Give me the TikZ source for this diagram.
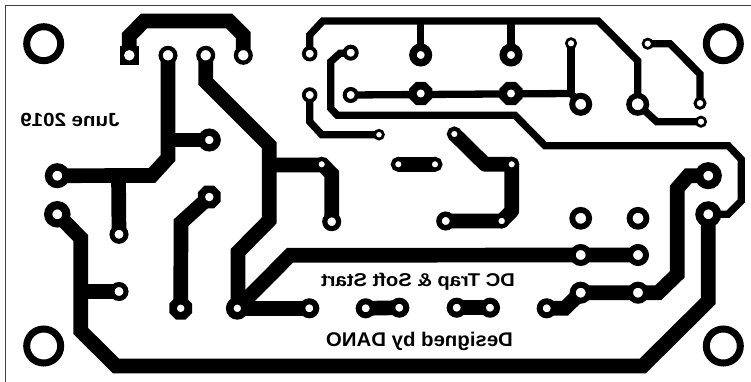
\documentclass[tikz,border=0pt]{standalone}
\usepackage{fontspec}
\setmainfont{Liberation Sans}
\usetikzlibrary{backgrounds,shapes.geometric}
\tikzset{
  pad/.style args={#1/#2}{circle, draw=black, fill=white, inner sep=0pt,
    line width={(#1-#2)/2}, minimum size={(#1+#2)/2}},
  hole/.style={circle, fill=white, inner sep=0pt, minimum size=#1},
  octpad/.style={regular polygon, regular polygon sides=8, fill=black, inner sep=0pt, minimum size=#1},
  sqpad/.style={rectangle, fill=black, inner sep=0pt, minimum size=#1},
  trk/.style={draw=black, line width=14.7pt},
  thin trk/.style={draw=black, line width=7.3pt},
  silk/.style={xscale=-#1, anchor=base, inner sep=0pt, text=black}
}
\begin{document}
\begin{tikzpicture}[x=1pt, y=-1pt]
    \useasboundingbox (0,0) rectangle (751,382);
    \draw[black!75, line width=1pt] (5,382) -- (5,6) -- (751,6);

    % mounting holes
    \node (mntA) [pad=41/27] at (43.7,43.7) {};
    \node (mntB) [pad=41/27] at (723.3,43.7) {};
    \node (mntC) [pad=41/27] at (43.7,346) {};
    \node (mntD) [pad=41/27] at (723.3,346) {};

    % left half pads
    \node (conA) [sqpad=19] at (129.3,55.3) {};
    \node (conAh) [hole=10.5] at (conA) {};
    \node (conB) [pad=19/10.5] at (168,55.3) {};
    \node (conC) [pad=19/10.5] at (205.7,55.3) {};
    \node (conD) [pad=19/10.5] at (243.3,55.3) {};
    \node (tabA) [pad=23/8.5] at (209.3,140) {};
    \node (inA) [pad=25/10] at (57.3,175.7) {};
    \node (inB) [pad=26.5/10] at (57.3,214.3) {};
    \node (resA) [pad=19/9] at (119,234.3) {};
    \node (resB) [pad=19/9] at (119,291.5) {};
    \node (capA) [octpad=24.6] at (209.3,197) {};
    \node (capAh) [hole=8.5] at (capA) {};
    \node (capB) [octpad=24.6] at (180.7,308.3) {};
    \node (capBh) [hole=7.5] at (capB) {};
    \node (gnd) [pad=22.7/7.5] at (237.3,308.3) {};
    \node (resC) [pad=20/8] at (309.3,308.3) {};
    \node (resD) [pad=20/8] at (365.7,308.3) {};
    \node (resE) [pad=20/8] at (399.3,307.7) {};
    \node (drvA) [pad=15/6.7] at (321.7,164.3) {};
    \node (drvB) [pad=19/8.7] at (331.7,221.7) {};

    % upper right pads
    \node (smA) [pad=15.5/8] at (309.7,53.7) {};
    \node (smB) [pad=16/8] at (350.7,52.7) {};
    \node (smC) [pad=15.5/8] at (309.7,95) {};
    \node (smD) [pad=16/8] at (350.7,95) {};
    \node (smE) [pad=11.5/6] at (379,134.7) {};
    \node (relA) [pad=23/8] at (420.7,55) {};
    \node (relB) [pad=23/8] at (511,55) {};
    \node (octA) [octpad=25] at (420.7,93.5) {};
    \node (octAh) [hole=8] at (octA) {};
    \node (octB) [octpad=25] at (511,93.5) {};
    \node (octBh) [hole=8] at (octB) {};
    \node (smF) [pad=12/6.7] at (571,43.3) {};
    \node (relC) [pad=23/11] at (580.7,104.3) {};
    \node (relD) [pad=23/12] at (637.7,104.3) {};
    \node (smG) [pad=12/6.7] at (647.7,43.7) {};
    \node (smH) [pad=13/7] at (700,103.3) {};
    \node (smI) [pad=12/6.7] at (701,121.7) {};

    % middle and lower right pads
    \node (dioA) [pad=15/6.7] at (454.3,134) {};
    \node (dioB) [pad=15/6.7] at (511.7,164.3) {};
    \node (barA) [pad=15/6.7] at (398.3,164.3) {};
    \node (barB) [pad=15/6.7] at (435,164.3) {};
    \node (dioC) [pad=19/8] at (445.7,221) {};
    \node (dioD) [pad=15/7] at (501.7,221) {};
    \node (barC) [pad=20/8] at (456.7,307.7) {};
    \node (barD) [pad=20/8] at (490,307.7) {};
    \node (barE) [pad=20/8] at (546.7,308.3) {};
    \node (outA) [pad=22.7/11] at (580.7,218.3) {};
    \node (outB) [pad=22.7/11] at (638,218.3) {};
    \node (outC) [pad=22/10] at (580.7,255) {};
    \node (outD) [pad=22/10] at (638,255) {};
    \node (outE) [pad=22/10] at (580.7,292.7) {};
    \node (outF) [pad=22/10] at (638,292.7) {};
    \node (spkA) [pad=27/10] at (708.3,175.7) {};
    \node (spkB) [pad=26/10] at (708.3,214.3) {};

    \node (dated) [silk=1.08, font=\bfseries\fontsize{19}{19}\selectfont] at (70,126.7) {June 2019};
    \node (title) [silk=1.09, font=\bfseries\fontsize{18.5}{19}\selectfont] at (418,286) {DC Trap \& Soft Start};
    \node (maker) [silk=1.03, font=\bfseries\fontsize{19.8}{20}\selectfont] at (419.5,346) {Designed by DANO};

    \begin{scope}[on background layer]
        \draw[trk] (conA.center) -- (129.3,36) -- (144,21) -- (229.3,21) -- (243.3,35) -- (conD.center);
        \draw[trk] (conB.center) -- (168,158) -- (152,175.5) -- (inA.center);
        \draw[trk] (168,140) -- (tabA.center);
        \draw[trk] (118.5,175.5) -- (resA.center);
        \draw[trk] (conC.center) -- (205.7,81.7) -- (269.3,145.3) -- (269.3,220.3) -- (238,252) -- (238,308.3) -- (gnd.center);
        \draw[trk] (269.3,165) -- (323,165) -- (331.7,174) -- (drvB.center);
        \draw[trk] (capA.center) -- (181,222.7) -- (capB.center);
        \draw[trk] (inB.center) -- (80.8,238) -- (80.8,331) -- (116,366) -- (642.7,366) -- (708.3,301) -- (spkB.center);
        \draw[trk] (80.8,291.5) -- (resB.center);
        \draw[trk] (gnd.center) -- (290,255.3) -- (outC.center) -- (outD.center);
        \draw[trk] (gnd.center) -- (resC.center);
        \draw[trk] (resD.center) -- (resE.center);
        \draw[trk] (barC.center) -- (barD.center);
        \draw[trk] (barE.center) -- (565,308.3) -- (outE.center) -- (outF.center) -- (658.3,292.7) -- (677.3,274.3) -- (677.3,188.3) -- (688.3,175.7) -- (spkA.center);
        \draw[trk, line join=round] (dioA.center) -- (485,164.3) -- (511.7,164.3) -- (511.7,211) -- (dioD.center) -- (dioC.center);
        \draw[trk] (barA.center) -- (barB.center);
        \draw[thin trk] (smB.center) -- (340,53.3) -- (330.7,61.7) -- (330.7,108.3) -- (337.3,115.3) -- (515,115.3) -- (545,145.7) -- (728.3,145.7) -- (741.3,159.3) -- (741.3,201) -- (728,214.3) -- (spkB.center);
        \draw[thin trk] (smA.center) -- (309.7,35) -- (322.7,21) -- (598.3,21) -- (637.7,60.7) -- (relD.center);
        \draw[thin trk] (420.7,21) -- (relA.center);
        \draw[thin trk] (511,21) -- (relB.center);
        \draw[thin trk] (smD.center) -- (571,93.5) -- (relC.center);
        \draw[thin trk] (smF.center) -- (571,93.5);
        \draw[thin trk] (smC.center) -- (309.7,121.7) -- (321.7,134.7) -- (smE.center);
        \draw[thin trk] (smG.center) -- (670,43.7) -- (700,74) -- (smH.center);
        \draw[thin trk] (relD.center) -- (656.7,121.7) -- (smI.center);
    \end{scope}
\end{tikzpicture}
\end{document}
